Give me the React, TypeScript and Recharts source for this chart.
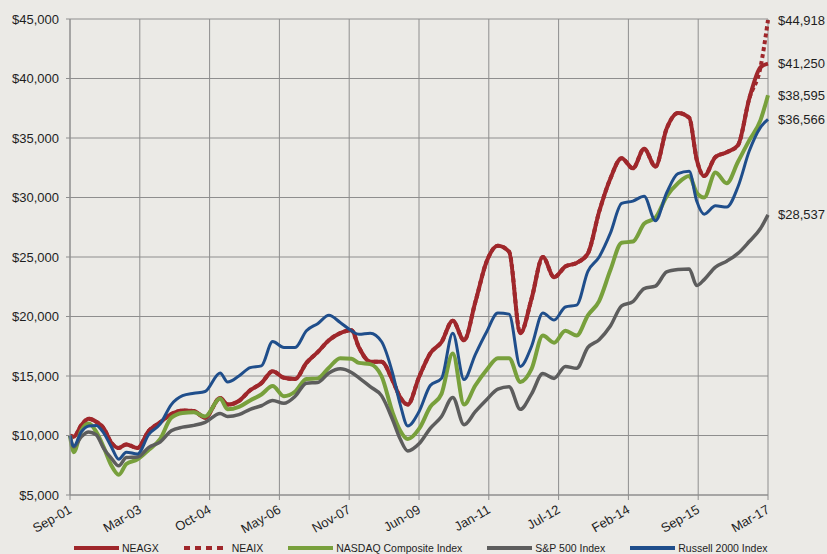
import React from 'react';
import { CartesianGrid, Legend, LabelList, Line, LineChart, XAxis, YAxis } from 'recharts';

// month index from Sep-01 (0) to Mar-17 (186)
const months = [0, 1, 3, 5, 7, 9, 11, 13, 15, 18, 21, 24, 27, 30, 33, 36, 40, 42, 45, 48, 51, 54, 57, 60, 63, 66, 69, 72, 75, 77, 80, 83, 86, 88, 90, 93, 96, 99, 102, 105, 108, 111, 114, 117, 120, 123, 126, 129, 132, 135, 138, 141, 144, 147, 150, 153, 156, 159, 162, 165, 167, 169, 172, 175, 178, 181, 184, 186];

const neagx = [10000, 9900, 10850, 11400, 11150, 10600, 9400, 8950, 9250, 8950, 10400, 11100, 11800, 12100, 12050, 11500, 13150, 12600, 12900, 13800, 14400, 15400, 14850, 14750, 16100, 17000, 18000, 18600, 18850, 17400, 16200, 16200, 14600, 13200, 12600, 14900, 16900, 17850, 19650, 18000, 21200, 24600, 25950, 25450, 18600, 21500, 25000, 23300, 24200, 24500, 25300, 28800, 31600, 33300, 32450, 34100, 32600, 35800, 37100, 36700, 33200, 31800, 33400, 33800, 34400, 38300, 40950, 41250];

// institutional class runs under NEAGX and splits off at the very end
const neaix = [10000, 9900, 10850, 11400, 11150, 10600, 9400, 8950, 9250, 8950, 10400, 11100, 11800, 12100, 12050, 11500, 13150, 12600, 12900, 13800, 14400, 15400, 14850, 14750, 16100, 17000, 18000, 18600, 18850, 17400, 16200, 16200, 14600, 13200, 12600, 14900, 16900, 17850, 19650, 18000, 21200, 24600, 25950, 25450, 18600, 21500, 25000, 23300, 24200, 24500, 25300, 28800, 31600, 33300, 32450, 34100, 32600, 35800, 37100, 36700, 33200, 31800, 33400, 33800, 34400, 38300, 40950, 44918];

const nasdaq = [10000, 8600, 10400, 11000, 10300, 9000, 7500, 6700, 7600, 8000, 8800, 9700, 11500, 11900, 11950, 11600, 13100, 12200, 12400, 12950, 13450, 14150, 13300, 13700, 14750, 14800, 15700, 16500, 16450, 16100, 16000, 15000, 11900, 10400, 9700, 10550, 12400, 13500, 16900, 12600, 14200, 15500, 16500, 16500, 14500, 15600, 18400, 17800, 18800, 18400, 20100, 21300, 23900, 26200, 26300, 27800, 28300, 30100, 31200, 31800, 30400, 30000, 32100, 31200, 33000, 34800, 36500, 38595];

const sp500 = [10000, 9050, 9900, 10300, 10050, 8900, 8100, 7450, 8150, 8200, 9000, 9450, 10400, 10700, 10850, 11100, 11850, 11600, 11750, 12200, 12500, 12950, 12700, 13300, 14400, 14450, 15250, 15600, 15300, 14850, 14100, 13350, 11300, 9700, 8700, 9300, 10600, 11600, 13200, 10900, 12000, 13000, 13900, 14100, 12200, 13500, 15200, 14800, 15800, 15650, 17400, 18050, 19200, 20900, 21250, 22350, 22550, 23750, 23950, 24000, 22600, 23100, 24150, 24650, 25300, 26300, 27400, 28537];

const russell = [10000, 9100, 10300, 10800, 10850, 10200, 9060, 8000, 8600, 8450, 10100, 10950, 12600, 13350, 13550, 13700, 15250, 14500, 15000, 15700, 15850, 17900, 17400, 17400, 18800, 19400, 20100, 19500, 18800, 18500, 18600, 17900, 15200, 12600, 10800, 12000, 14200, 14800, 18600, 14700, 16800, 18700, 20300, 20200, 15800, 17500, 20300, 19700, 20800, 20950, 23800, 25000, 27000, 29500, 29700, 30100, 28050, 30400, 32000, 32200, 29700, 28600, 29300, 29200, 30900, 33900, 35900, 36566];

const xTicks = [0, 18.6, 37.2, 55.8, 74.4, 93, 111.6, 130.2, 148.8, 167.4, 186];
const xTickLabels = ['Sep-01', 'Mar-03', 'Oct-04', 'May-06', 'Nov-07', 'Jun-09', 'Jan-11', 'Jul-12', 'Feb-14', 'Sep-15', 'Mar-17'];
const yTicks = [5000, 10000, 15000, 20000, 25000, 30000, 35000, 40000, 45000];

const RED = '#9f272b';
const GREEN = '#78a03c';
const GREY = '#5d5d5d';
const BLUE = '#1f4e8b';
const GRID = '#8e8e8e';
const FONT = '"Liberation Sans", Arial, sans-serif';

const data = months.map((m, i) => ({
    m,
    neagx: neagx[i],
    neaix: neaix[i],
    nasdaq: nasdaq[i],
    sp500: sp500[i],
    russell: russell[i],
}));

const legendItems = [
    { name: 'NEAGX', color: RED, dash: undefined },
    { name: 'NEAIX', color: RED, dash: '6 5 6 5 6 5 6 100' },
    { name: 'NASDAQ Composite Index', color: GREEN, dash: undefined },
    { name: 'S&P 500 Index', color: GREY, dash: undefined },
    { name: 'Russell 2000 Index', color: BLUE, dash: undefined },
];

const money = (v: number) => `$${Number(v).toLocaleString('en-US')}`;

const EndLabel = (props: any) => {
    const { x, y, value, index } = props;
    if (index !== months.length - 1) return null;
    return (
        <text x={x + 10} y={y} dy="0.35em" fontSize={13} fontFamily={FONT} fill="#1e1e1e">
            {money(value)}
        </text>
    );
};

const XTick = (props: any) => {
    const { x, y, index } = props;
    return (
        <g transform={`translate(${x},${y})`}>
            <text x={-3} y={10} textAnchor="end" transform="rotate(-30)" fontSize={13} fontFamily={FONT} fill="#1e1e1e">
                {xTickLabels[index]}
            </text>
        </g>
    );
};

const LegendContent = () => (
    <div style={{ display: 'flex', height: 20, paddingTop: 7, paddingLeft: 74, boxSizing: 'border-box', fontFamily: FONT, fontSize: 10.5, color: '#1e1e1e', lineHeight: '12px' }}>
        {legendItems.map(item => (
            <div key={item.name} style={{ display: 'flex', alignItems: 'center', marginRight: 25 }}>
                <svg width={45} height={6}>
                    <line x1={0} y1={3} x2={45} y2={3} stroke={item.color} strokeWidth={4} strokeDasharray={item.dash} />
                </svg>
                <span style={{ marginLeft: 3 }}>{item.name}</span>
            </div>
        ))}
    </div>
);

export default function App() {
    return (
        <div style={{ position: 'absolute', left: 0, top: 0, width: 827, height: 554, background: '#ebeae6' }}>
            <LineChart width={827} height={554} data={data} margin={{ top: 19, right: 59, left: 0, bottom: 0 }}>
                <CartesianGrid stroke={GRID} strokeWidth={1} />
                <XAxis
                    dataKey="m"
                    type="number"
                    domain={[0, 186]}
                    ticks={xTicks}
                    interval={0}
                    height={39}
                    tickSize={5}
                    tickMargin={2}
                    stroke={GRID}
                    tick={<XTick />}
                />
                <YAxis
                    domain={[5000, 45000]}
                    ticks={yTicks}
                    width={70}
                    tickSize={4}
                    tickMargin={7}
                    stroke={GRID}
                    tickFormatter={money}
                    tick={{ fontSize: 13, fontFamily: FONT, fill: '#1e1e1e' }}
                />
                <Legend verticalAlign="bottom" height={20} wrapperStyle={{ left: 0, width: 827 }} content={<LegendContent />} />
                <Line type="monotone" dataKey="neaix" stroke={RED} strokeWidth={4} strokeDasharray="4 3" dot={false} isAnimationActive={false}>
                    <LabelList dataKey="neaix" content={<EndLabel />} />
                </Line>
                <Line type="monotone" dataKey="neagx" stroke={RED} strokeWidth={4} dot={false} isAnimationActive={false}>
                    <LabelList dataKey="neagx" content={<EndLabel />} />
                </Line>
                <Line type="monotone" dataKey="nasdaq" stroke={GREEN} strokeWidth={4} dot={false} isAnimationActive={false}>
                    <LabelList dataKey="nasdaq" content={<EndLabel />} />
                </Line>
                <Line type="monotone" dataKey="sp500" stroke={GREY} strokeWidth={3.5} dot={false} isAnimationActive={false}>
                    <LabelList dataKey="sp500" content={<EndLabel />} />
                </Line>
                <Line type="monotone" dataKey="russell" stroke={BLUE} strokeWidth={3} dot={false} isAnimationActive={false}>
                    <LabelList dataKey="russell" content={<EndLabel />} />
                </Line>
            </LineChart>
        </div>
    );
}
